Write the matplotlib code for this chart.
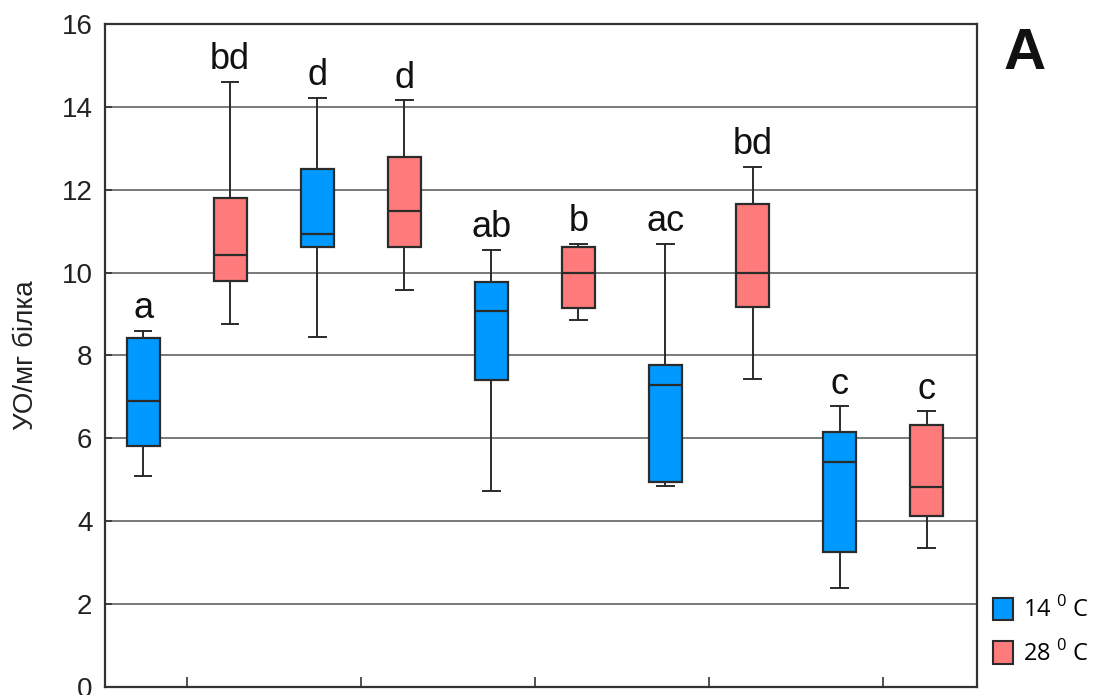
import matplotlib
matplotlib.use('Agg')
import matplotlib.pyplot as plt
from matplotlib.patches import Patch

plt.rcParams['font.family'] = ['Liberation Sans', 'DejaVu Sans']
plt.rcParams['mathtext.fontset'] = 'custom'
plt.rcParams['mathtext.rm'] = 'Open Sans'

# ---- Data ----
groups = [1, 2, 3, 4, 5]
temps = ["14", "28", "14", "28", "14", "28", "14", "28", "14", "28"]
whisk_lo = [5.08, 8.77, 8.44, 9.58, 4.73, 8.86, 4.85, 7.43, 2.39, 3.36]
q1 = [5.81, 9.80, 10.62, 10.62, 7.40, 9.15, 4.95, 9.17, 3.25, 4.13]
medians = [6.90, 10.43, 10.93, 11.48, 9.07, 9.98, 7.28, 10.00, 5.42, 4.82]
q3 = [8.42, 11.81, 12.51, 12.78, 9.78, 10.61, 7.78, 11.66, 6.16, 6.32]
whisk_hi = [8.60, 14.60, 14.22, 14.16, 10.55, 10.70, 10.70, 12.55, 6.77, 6.66]
letters = ["a", "bd", "d", "d", "ab", "b", "ac", "bd", "c", "c"]

COLORS = {"14": "#0099ff", "28": "#ff7b7b"}
EDGE = "#2b2b2b"

fig = plt.figure(figsize=(10.96, 6.95), dpi=100)
ax = fig.add_axes([0.0958, 0.0115, 0.7956, 0.954])

positions = []
for g in groups:
    positions += [g - 0.25, g + 0.25]

stats = []
for i in range(len(medians)):
    stats.append({
        "med": medians[i], "q1": q1[i], "q3": q3[i],
        "whislo": whisk_lo[i], "whishi": whisk_hi[i], "fliers": [],
    })

bp = ax.bxp(stats, positions=positions, widths=0.19, capwidths=0.095,
            patch_artist=True, showfliers=False,
            boxprops=dict(linewidth=1.6, edgecolor=EDGE),
            medianprops=dict(color=EDGE, linewidth=1.6),
            whiskerprops=dict(color=EDGE, linewidth=1.4),
            capprops=dict(color=EDGE, linewidth=1.4))
for box, t in zip(bp["boxes"], temps):
    box.set_facecolor(COLORS[t])
for z in ("boxes", "medians", "whiskers", "caps"):
    for a in bp[z]:
        a.set_zorder(3)

# significance letters above each whisker cap
for x, top, lab in zip(positions, whisk_hi, letters):
    ax.annotate(lab, (x, top), xytext=(0, 9), textcoords='offset points',
                ha='center', va='baseline', fontsize=26, color='#111111')

ax.set_xlim(0.531, 5.539)
ax.set_ylim(0, 16)
ax.set_yticks(range(0, 17, 2))
ax.set_xticks(groups)
ax.set_xticklabels([])
for y in range(2, 16, 2):
    ax.axhline(y, color='#555555', linewidth=1.1, zorder=1)
ax.tick_params(axis='both', direction='in', length=5, width=1.2, color='#333333',
               labelsize=20, pad=9, labelcolor='#222222')
ax.tick_params(axis='x', length=7)
for s in ax.spines.values():
    s.set_color('#333333')
    s.set_linewidth(1.6)

ax.set_ylabel("УО/мг білка", fontsize=20, color='#222222', labelpad=16)

fig.text(1025 / 1096, 1 - 54 / 695, "A", fontsize=42, fontweight='bold',
         ha='center', va='center', color='#111111')

handles = [Patch(facecolor=COLORS["14"], edgecolor=EDGE, linewidth=1.5),
           Patch(facecolor=COLORS["28"], edgecolor=EDGE, linewidth=1.5)]
fig.legend(handles, ["14 $^{0}$ C", "28 $^{0}$ C"], loc='lower left',
           bbox_to_anchor=(0.8975, 0.027), frameon=False, borderaxespad=0,
           prop={'family': 'Open Sans', 'size': 17},
           handlelength=0.85, handleheight=1.1, handletextpad=0.4,
           labelspacing=0.75)

fig.savefig("out.png", dpi=100)
